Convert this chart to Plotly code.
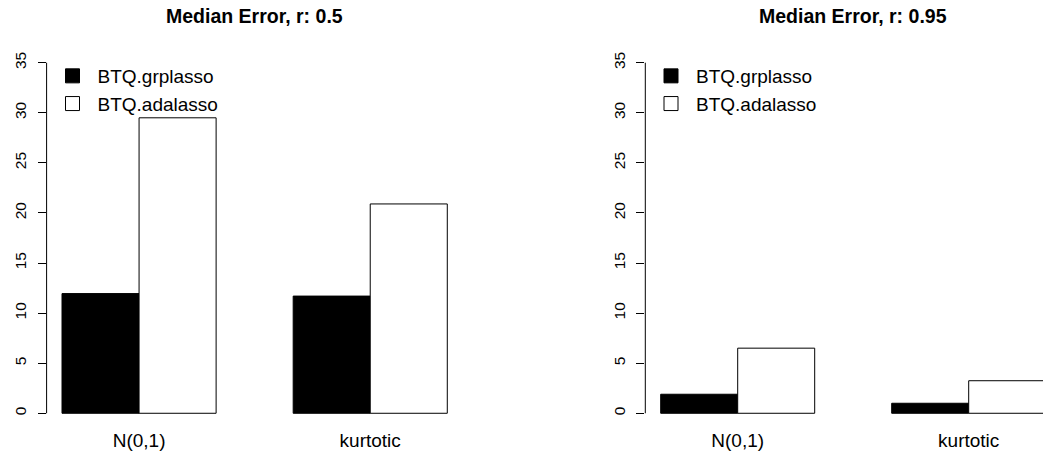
import plotly.graph_objects as go

categories = ["N(0,1)", "kurtotic"]
series_names = ["BTQ.grplasso", "BTQ.adalasso"]
r05_grplasso = [11.95, 11.7]
r05_adalasso = [29.5, 20.9]
r095_grplasso = [1.9, 1.0]
r095_adalasso = [6.5, 3.25]
titles = ["Median Error, r: 0.5", "Median Error, r: 0.95"]
y_ticks = [0, 5, 10, 15, 20, 25, 30, 35]

W, H = 1043, 456
FONT = "Liberation Sans, Arial, Helvetica, sans-serif"

fig = go.Figure()

panels = [
    (r05_grplasso, r05_adalasso, "x", "y", "legend"),
    (r095_grplasso, r095_adalasso, "x2", "y2", "legend2"),
]
fills = ["black", "white"]
for (g, a, xa, ya, lg) in panels:
    for name, vals, fill in zip(series_names, [g, a], fills):
        fig.add_trace(go.Bar(
            x=categories, y=vals, name=name, xaxis=xa, yaxis=ya, showlegend=False,
            marker=dict(color=fill, line=dict(color="black", width=1)),
            hoverinfo="x+y+name",
        ))
    # legend entries (R-style square keys)
    for name, fill in zip(series_names, fills):
        fig.add_trace(go.Scatter(
            x=[None], y=[None], mode="markers", name=name, xaxis=xa, yaxis=ya, legend=lg,
            marker=dict(symbol="square", size=14, color=fill, line=dict(color="black", width=1)),
        ))

# plot regions in pixels
left_dom = [46.6 / W, 462.7 / W]
right_dom = [645.3 / W, 1.0]
ydom = [1 - 427.3 / H, 1 - 48.7 / H]

xcommon = dict(type="category", showgrid=False, zeroline=False, showline=False,
               ticks="", tickfont=dict(family=FONT, size=19, color="black"),
               fixedrange=True)
ycommon = dict(range=[-1.4, 36.4], tickvals=y_ticks, showgrid=False, zeroline=False,
               showline=False, ticks="outside", ticklen=8, tickwidth=1, tickcolor="black",
               tickangle=-90, ticklabelstandoff=5,
               tickfont=dict(family=FONT, size=15.5, color="black"),
               domain=ydom, fixedrange=True)

legcommon = dict(xanchor="left", yanchor="top", bgcolor="rgba(0,0,0,0)", borderwidth=0,
                 itemwidth=40, font=dict(family=FONT, size=19, color="black"),
                 tracegroupgap=0, traceorder="normal")

fig.update_layout(
    width=W, height=H,
    margin=dict(l=0, r=0, t=0, b=0),
    paper_bgcolor="white", plot_bgcolor="white",
    barmode="group", bargap=1/3, bargroupgap=0,
    showlegend=True,
    xaxis=dict(domain=left_dom, range=[-0.4, 1.4], anchor="y", **xcommon),
    yaxis=dict(anchor="x", **ycommon),
    xaxis2=dict(domain=right_dom, range=[-0.4, (5.965 - 2) / 3], anchor="y2", **xcommon),
    yaxis2=dict(anchor="x2", **ycommon),
    legend=dict(x=47.5 / W, y=1 - 57 / H, **legcommon),
    legend2=dict(x=646 / W, y=1 - 57 / H, **legcommon),
)

# y axis lines spanning only the tick range (R style)
for xr, yr in [("x domain", "y"), ("x2 domain", "y2")]:
    fig.add_shape(type="line", xref=xr, yref=yr, x0=0, x1=0, y0=y_ticks[0], y1=y_ticks[-1],
                  line=dict(color="black", width=1))

# titles
centers = [(left_dom[0] + left_dom[1]) / 2, (645.3 + 1061) / 2 / W]
for t, cx in zip(titles, centers):
    fig.add_annotation(text="<b>" + t + "</b>", x=cx, y=1 - 16 / H, xref="paper", yref="paper",
                       xanchor="center", yanchor="middle", showarrow=False,
                       font=dict(family=FONT, size=19.5, color="black"))

fig.write_html("out.html")
